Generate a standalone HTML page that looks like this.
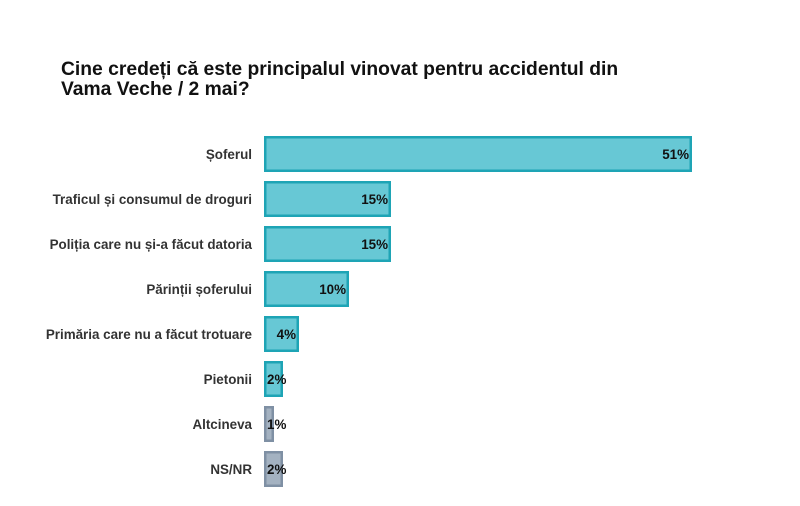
<!DOCTYPE html>
<html>
<head>
<meta charset="utf-8">
<style>
  html, body { margin: 0; padding: 0; background: #ffffff; }
  svg { display: block; }
  .t { font-family: "Liberation Sans", Arial, sans-serif; font-weight: bold; }
</style>
</head>
<body>
<svg width="800" height="506" viewBox="0 0 800 506" xmlns="http://www.w3.org/2000/svg">
  <rect x="0" y="0" width="800" height="506" fill="#ffffff"/>
  <text class="t" x="61" y="75" font-size="19.3" fill="#111111">Cine credeți că este principalul vinovat pentru accidentul din</text>
  <text class="t" x="61" y="95" font-size="19.3" fill="#111111">Vama Veche / 2 mai?</text>

  <g fill="#67c8d5" stroke="#1ea4b5" stroke-width="2.5">
    <rect x="265.25" y="137.25" width="425.5" height="33.5"/>
    <rect x="265.25" y="182.25" width="124.5" height="33.5"/>
    <rect x="265.25" y="227.25" width="124.5" height="33.5"/>
    <rect x="265.25" y="272.25" width="82.5" height="33.5"/>
    <rect x="265.25" y="317.25" width="32.5" height="33.5"/>
    <rect x="265.25" y="362.25" width="16.5" height="33.5"/>
  </g>
  <g fill="#a4b2c1" stroke="#7f90a4" stroke-width="2.5">
    <rect x="265.25" y="407.25" width="7.5" height="33.5"/>
    <rect x="265.25" y="452.25" width="16.5" height="33.5"/>
  </g>

  <g class="t" font-size="13.4" fill="#333333" text-anchor="end">
    <text x="252" y="159">Șoferul</text>
    <text x="252" y="204">Traficul și consumul de droguri</text>
    <text x="252" y="249">Poliția care nu și-a făcut datoria</text>
    <text x="252" y="294">Părinții șoferului</text>
    <text x="252" y="339">Primăria care nu a făcut trotuare</text>
    <text x="252" y="384">Pietonii</text>
    <text x="252" y="429">Altcineva</text>
    <text x="252" y="474">NS/NR</text>
  </g>

  <g class="t" font-size="13.4" fill="#111111">
    <text x="689" y="159" text-anchor="end">51%</text>
    <text x="388" y="204" text-anchor="end">15%</text>
    <text x="388" y="249" text-anchor="end">15%</text>
    <text x="346" y="294" text-anchor="end">10%</text>
    <text x="296" y="339" text-anchor="end">4%</text>
    <text x="267" y="384">2%</text>
    <text x="267" y="429">1%</text>
    <text x="267" y="474">2%</text>
  </g>
</svg>
</body>
</html>
